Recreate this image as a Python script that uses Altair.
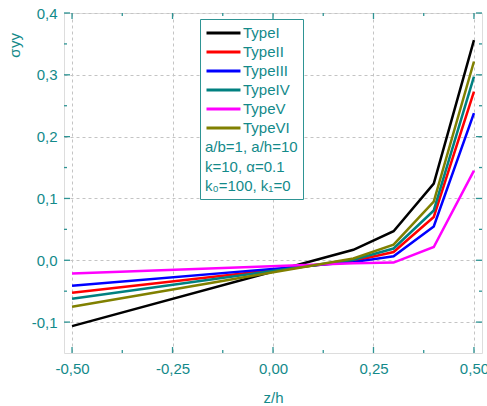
import altair as alt
import pandas as pd

# ---- data ----
z = [-0.5, 0.2, 0.3, 0.4, 0.5]
type_names = ["TypeI", "TypeII", "TypeIII", "TypeIV", "TypeV", "TypeVI"]
type1 = [-0.1065, 0.017, 0.047, 0.124, 0.356]
type2 = [-0.0527, -0.001, 0.0134, 0.070, 0.273]
type3 = [-0.0414, -0.003, 0.0065, 0.0548, 0.238]
type4 = [-0.0624, 0.001, 0.019, 0.0806, 0.297]
type5 = [-0.0215, -0.005, -0.0038, 0.0215, 0.145]
type6 = [-0.0753, 0.003, 0.0253, 0.095, 0.3215]
colors = ["#000000", "#ff0000", "#0000ff", "#008080", "#ff00ff", "#808000"]

x_major = [-0.5, -0.25, 0.0, 0.25, 0.5]
x_minor = [-0.375, -0.125, 0.125, 0.375]
y_major = [-0.1, 0.0, 0.1, 0.2, 0.3, 0.4]
y_minor = [-0.05, 0.05, 0.15, 0.25, 0.35]
legend_note = ["a/b=1, a/h=10", "k=10, α=0.1", "k₀=100, k₁=0"]

series = [type1, type2, type3, type4, type5, type6]
rows = []
for name, vals in zip(type_names, series):
    for zz, v in zip(z, vals):
        rows.append({"z": zz, "v": v, "type": name})
df = pd.DataFrame(rows)

TEAL = "#138a8a"
AXIS = "#2e9494"
FONT = "Liberation Sans"
W, H = 418, 340

xs = alt.Scale(domain=[-0.52, 0.52], nice=False, zero=False)
ys = alt.Scale(domain=[-0.15, 0.4], nice=False, zero=False)

xlab = "(datum.value < 0 ? '-' : '') + replace(format(abs(datum.value), '.2f'), '.', ',')"
ylab = "(datum.value < -0.00001 ? '-' : '') + replace(format(abs(datum.value), '.1f'), '.', ',')"

x_axis = alt.Axis(
    values=x_major, ticks=False, tickSize=0, domain=False, grid=True,
    gridDash=[3, 3], gridColor="#c4c4c4", gridWidth=1,
    labelExpr=xlab, labelFontSize=15, labelColor=TEAL, labelPadding=8,
    labelFont=FONT, title="z/h", titleFontSize=15, titleColor=TEAL,
    titleFont=FONT, titleFontWeight="normal", titlePadding=14)
y_axis = alt.Axis(
    values=y_major, ticks=False, tickSize=0, domain=False, grid=True,
    gridDash=[3, 3], gridColor="#c4c4c4", gridWidth=1,
    labelExpr=ylab, labelFontSize=15, labelColor=TEAL, labelPadding=7,
    labelFont=FONT, title=None)

lines = alt.Chart(df).mark_line(strokeWidth=2.5).encode(
    x=alt.X("z:Q", scale=xs, axis=x_axis),
    y=alt.Y("v:Q", scale=ys, axis=y_axis),
    color=alt.Color("type:N", scale=alt.Scale(domain=type_names, range=colors),
                    legend=alt.Legend(
                        orient="none", legendX=136, legendY=6,
                        title=legend_note, titleOrient="bottom",
                        titleAnchor="start", titleAlign="left",
                        titleColor=TEAL, titleFontSize=15, titleFont=FONT,
                        titleFontWeight="normal", titleLineHeight=19.5,
                        titlePadding=4, titleLimit=0,
                        labelColor=TEAL, labelFontSize=15, labelFont=FONT,
                        labelOffset=20, symbolType="M-1,0H3.53", symbolSize=225,
                        symbolStrokeWidth=3, strokeColor=AXIS, fillColor="white",
                        padding=5, rowPadding=2)),
)

def tick_layer(vals, side, length):
    d = pd.DataFrame({"t": vals})
    base = alt.Chart(d).mark_rule(color=AXIS, strokeWidth=1.3)
    if side == "bottom":
        return base.encode(x=alt.X("t:Q", scale=xs, axis=x_axis), y=alt.value(H), y2=alt.value(H - length))
    if side == "top":
        return base.encode(x=alt.X("t:Q", scale=xs, axis=x_axis), y=alt.value(0), y2=alt.value(length))
    if side == "left":
        return base.encode(y=alt.Y("t:Q", scale=ys, axis=y_axis), x=alt.value(0), x2=alt.value(length))
    return base.encode(y=alt.Y("t:Q", scale=ys, axis=y_axis), x=alt.value(W), x2=alt.value(W - length))

ticks = []
for side in ["bottom", "top"]:
    ticks.append(tick_layer(x_major, side, 6))
    ticks.append(tick_layer(x_minor, side, 3))
for side in ["left", "right"]:
    ticks.append(tick_layer(y_major, side, 6))
    ticks.append(tick_layer(y_minor, side, 3))

sig = alt.Chart(pd.DataFrame({"t": ["σ"]})).mark_text(
    angle=270, fontSize=15, color=TEAL, font=FONT, align="center", baseline="alphabetic"
).encode(x=alt.value(-44), y=alt.value(40), text="t:N")
sub = alt.Chart(pd.DataFrame({"t": ["yy"]})).mark_text(
    angle=270, fontSize=15, color=TEAL, font=FONT, align="center", baseline="alphabetic"
).encode(x=alt.value(-44), y=alt.value(27.5), text="t:N")

chart = alt.layer(lines, *ticks, sig, sub).properties(
    width=W, height=H,
    padding={"left": 64, "top": 13, "right": 5, "bottom": 53},
    autosize="none",
).configure_view(stroke=AXIS, strokeWidth=1.5).configure(font=FONT)

chart.save("out.html", embed_options={"renderer": "svg", "actions": False})
